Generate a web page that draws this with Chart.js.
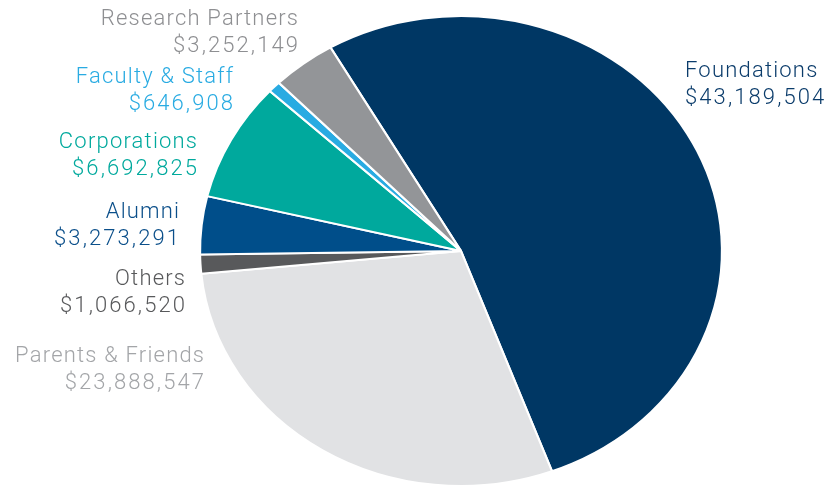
<!DOCTYPE html>
<html><head><meta charset="utf-8">
<script src="https://cdn.jsdelivr.net/npm/chart.js@4"></script>
<style>html,body{margin:0;padding:0;background:#fff}#wrap{width:827px;height:487px;position:relative}</style>
</head><body><div id="wrap"><canvas id="c" width="827" height="487"></canvas></div>
<script>
const categories = ['Foundations', 'Parents & Friends', 'Others', 'Alumni', 'Corporations', 'Faculty & Staff', 'Research Partners'];
const amounts = [43189504, 23888547, 1066520, 3273291, 6692825, 646908, 3252149];
const sliceColors = ['#003764', '#e1e2e4', '#58595b', '#004e8a', '#00a99d', '#29abe2', '#939598'];
const labelColors = ['#0b3c6b', '#a3a5a8', '#58595b', '#0b4f8a', '#00a99d', '#29abe2', '#8e8f92'];

// layout of the text labels: [x, baseline of first line, alignment]
const labelLayout = [[685, 77, 'left'], [204, 362, 'right'], [185, 285, 'right'], [179, 218, 'right'], [197, 148, 'right'], [233, 83, 'right'], [298, 25, 'right']];
const X_STRETCH = 261 / 235;
const NAME_SPACING = 1.2;
const AMOUNT_SPACING = 2.1;

const ellipsePlugin = {
  id: 'ellipse',
  beforeDatasetsDraw(chart) {
    const a = chart.getDatasetMeta(0).data[0];
    const ctx = chart.ctx;
    ctx.save();
    ctx.translate(a.x, a.y);
    ctx.scale(X_STRETCH, 1);
    ctx.translate(-a.x, -a.y);
  },
  afterDatasetsDraw(chart) { chart.ctx.restore(); }
};

function drawSpaced(ctx, text, x, y, align, spacing) {
  ctx.letterSpacing = spacing + 'px';
  ctx.textAlign = align;
  ctx.fillText(text, align === 'right' ? x + spacing : x, y);
}

const labelPlugin = {
  id: 'labels',
  afterDraw(chart) {
    const ctx = chart.ctx;
    ctx.save();
    ctx.font = '300 22px Roboto';
    ctx.textBaseline = 'alphabetic';
    categories.forEach((name, i) => {
      const [x, y, align] = labelLayout[i];
      ctx.fillStyle = labelColors[i];
      drawSpaced(ctx, name, x, y, align, NAME_SPACING);
      drawSpaced(ctx, '$' + amounts[i].toLocaleString('en-US'), x, y + 27, align, AMOUNT_SPACING);
    });
    ctx.restore();
  }
};

new Chart(document.getElementById('c'), {
  type: 'pie',
  data: {
    labels: categories,
    datasets: [{
      data: amounts,
      backgroundColor: sliceColors,
      borderColor: '#ffffff',
      borderWidth: 2
    }]
  },
  options: {
    responsive: false,
    animation: false,
    devicePixelRatio: 1,
    rotation: -30,
    radius: 235,
    layout: { padding: { left: 226, right: 131, top: 16, bottom: 1 } },
    plugins: { legend: { display: false }, tooltip: { enabled: false } }
  },
  plugins: [ellipsePlugin, labelPlugin]
});
</script>
</body></html>
